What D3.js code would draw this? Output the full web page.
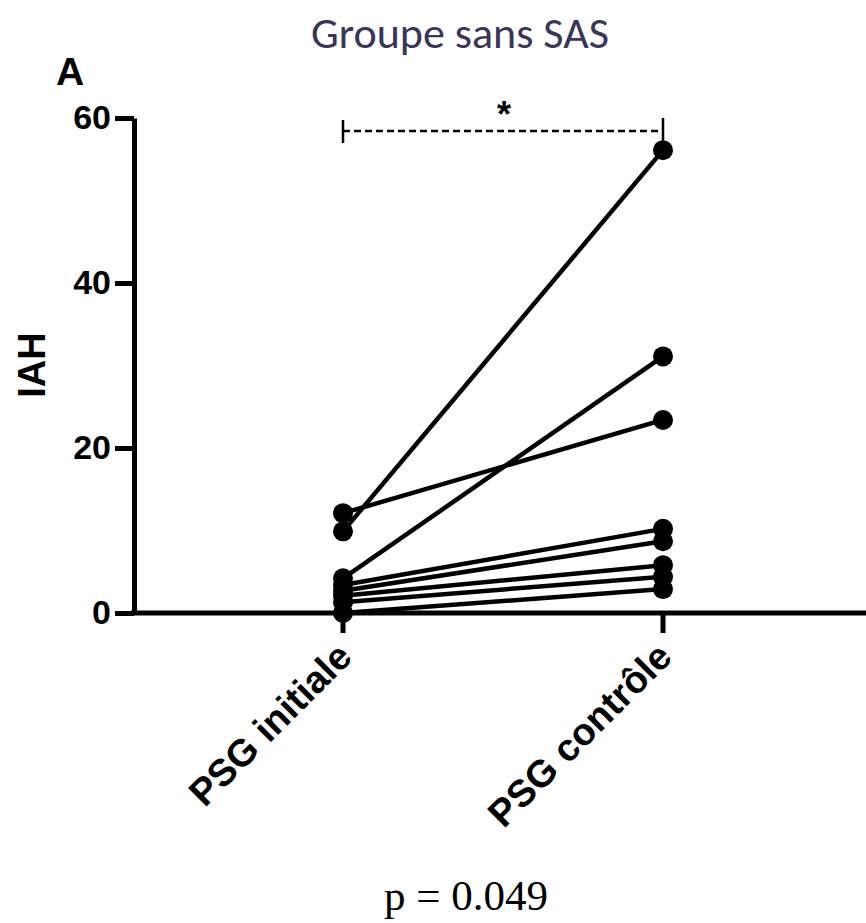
<!DOCTYPE html>
<html>
<head>
<meta charset="utf-8">
<script src="https://cdn.jsdelivr.net/npm/d3@7"></script>
<style>
  body { margin: 0; background: #fff; }
  svg { display: block; }
</style>
</head>
<body>
<div class="chart"></div>
<script>
// paired values per subject
const groups = ['PSG initiale', 'PSG contrôle'];
const initiale = [12.1, 9.9, 4.2, 3.4, 2.7, 2.1, 1.3, 0];
const controle = [23.4, 56.1, 31.1, 10.2, 8.7, 5.8, 4.4, 2.9];
const yTicks = [0, 20, 40, 60];

const width = 866;
const height = 923;
const bold = '"Liberation Sans", Arial, sans-serif';

const svg = d3.select('.chart')
  .append('svg')
  .attr('width', width)
  .attr('height', height);

const x = d3.scalePoint().domain(groups).range([343, 663]);
const y = d3.scaleLinear().domain([0, 60]).range([613, 118]);

const pairs = initiale.map((v, i) => ({ a: v, b: controle[i] }));

// title
svg.append('text')
  .attr('x', 460).attr('y', 48)
  .attr('text-anchor', 'middle')
  .attr('font-family', 'Carlito, "Open Sans", sans-serif')
  .attr('font-size', 44)
  .attr('fill', '#3b3459')
  .text('Groupe sans SAS');

svg.append('text')
  .attr('x', 56).attr('y', 85)
  .attr('font-family', bold)
  .attr('font-weight', 'bold')
  .attr('font-size', 39)
  .text('A');

// y axis
const yAxis = svg.append('g')
  .attr('transform', 'translate(134,0)')
  .call(d3.axisLeft(y).tickValues(yTicks).tickSize(19).tickSizeOuter(0).tickPadding(4));
yAxis.select('.domain').attr('stroke-width', 5).attr('stroke', '#000');
yAxis.selectAll('.tick line').attr('stroke-width', 5).attr('stroke', '#000');
yAxis.selectAll('.tick text')
  .attr('font-family', bold)
  .attr('font-weight', 'bold')
  .attr('font-size', 34)
  .attr('fill', '#000');

// x axis
const xAxis = svg.append('g').attr('transform', 'translate(0,613)');
xAxis.append('line')
  .attr('x1', 131).attr('x2', width)
  .attr('stroke', '#000').attr('stroke-width', 5);
const xt = xAxis.selectAll('g.xt').data(groups).join('g')
  .attr('class', 'xt')
  .attr('transform', d => `translate(${x(d)},0)`);
xt.append('line').attr('y1', 0).attr('y2', 20)
  .attr('stroke', '#000').attr('stroke-width', 5);
xt.append('text')
  .attr('transform', 'translate(11,46) rotate(-45)')
  .attr('text-anchor', 'end')
  .attr('font-family', bold)
  .attr('font-weight', 'bold')
  .attr('font-size', 38)
  .text(d => d);

// y label
svg.append('text')
  .attr('transform', 'translate(45,365) rotate(-90)')
  .attr('text-anchor', 'middle')
  .attr('font-family', bold)
  .attr('font-weight', 'bold')
  .attr('font-size', 38)
  .text('IAH');

// paired lines
svg.append('g').selectAll('line').data(pairs).join('line')
  .attr('x1', x(groups[0])).attr('y1', d => y(d.a))
  .attr('x2', x(groups[1])).attr('y2', d => y(d.b))
  .attr('stroke', '#000').attr('stroke-width', 4.5);

svg.append('g').selectAll('circle').data(initiale).join('circle')
  .attr('cx', x(groups[0])).attr('cy', d => y(d)).attr('r', 10);
svg.append('g').selectAll('circle').data(controle).join('circle')
  .attr('cx', x(groups[1])).attr('cy', d => y(d)).attr('r', 10);

// significance bracket
const sig = svg.append('g').attr('stroke', '#000').attr('stroke-width', 2.5);
sig.append('line')
  .attr('x1', x(groups[0])).attr('x2', x(groups[1]))
  .attr('y1', 131).attr('y2', 131)
  .attr('stroke-dasharray', '7,4');
sig.append('line').attr('x1', x(groups[0])).attr('x2', x(groups[0])).attr('y1', 120).attr('y2', 143);
sig.append('line').attr('x1', x(groups[1])).attr('x2', x(groups[1])).attr('y1', 118).attr('y2', 150);
svg.append('text')
  .attr('x', (x(groups[0]) + x(groups[1])) / 2 + 1).attr('y', 127)
  .attr('text-anchor', 'middle')
  .attr('font-family', bold)
  .attr('font-weight', 'bold')
  .attr('font-size', 36)
  .text('*');

// p value
svg.append('text')
  .attr('x', 466).attr('y', 910)
  .attr('text-anchor', 'middle')
  .attr('font-family', '"Liberation Serif", "Times New Roman", serif')
  .attr('font-size', 43)
  .text('p = 0.049');
</script>
</body>
</html>
